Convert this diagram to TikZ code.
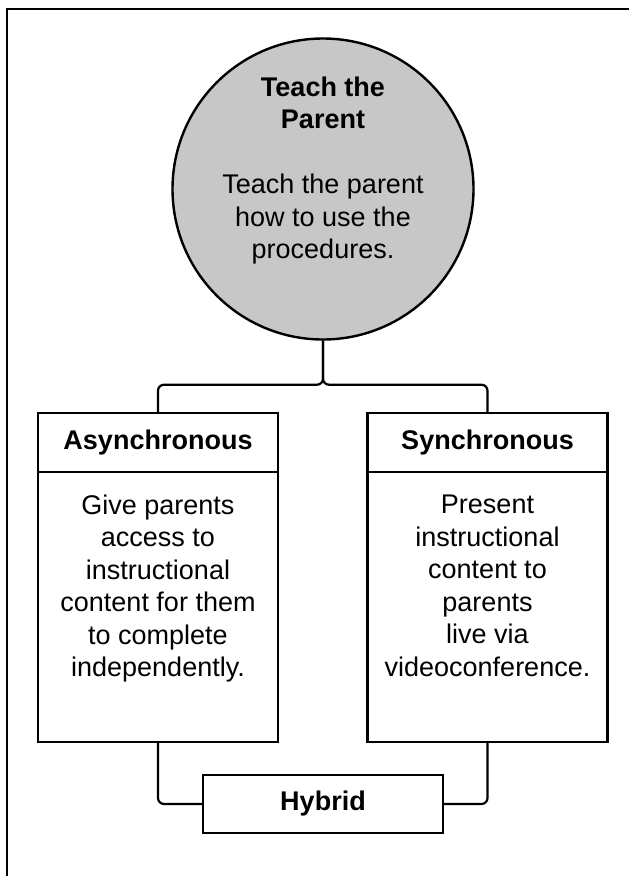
\documentclass[tikz,border=0pt]{standalone}
\usepackage{fontspec}
\setmainfont{Liberation Sans}
\usepackage{tikz}
\usetikzlibrary{positioning}
\definecolor{parentFill}{gray}{0.78}

\begin{document}
\begin{tikzpicture}[x=1pt,y=-1pt]

            \tikzstyle{textFont} = [font=\fontsize{27}{32.5}\selectfont];
            \tikzstyle{parentNode} = [textFont, circle, draw, line width=2.4pt, fill=parentFill, minimum size=271pt, inner sep=0pt, align=center];
            \tikzstyle{headBox} = [textFont, draw, line width=2.4pt, minimum width=240pt, minimum height=59pt, inner sep=0pt, font=\fontsize{27}{32.5}\selectfont\bfseries];
            \tikzstyle{bodyBox} = [textFont, draw, line width=2.4pt, minimum width=240pt, minimum height=270pt, inner sep=0pt, align=center];
            \tikzstyle{link} = [line width=2.2pt, rounded corners=6pt];

            \useasboundingbox (0,0) rectangle (629,876);
            \draw[line width=2pt] (6.5,876) -- (6.5,8.5) -- (629,8.5);

            \node[parentNode] (parent) at (323,189) {\textbf{Teach the}\\\textbf{Parent}\\[32.5pt]Teach the parent\\how to use the\\procedures.\\[10pt]};

            \node[headBox] (asyncHead) at (158,442.5) {Asynchronous};
            \node[bodyBox] (asyncBody) at (158,607) {Give parents\\access to\\instructional\\content for them\\to complete\\independently.\\[10pt]};
            \node[headBox] (syncHead) at (487.5,442.5) {Synchronous};
            \node[bodyBox] (syncBody) at (487.5,607) {Present\\instructional\\content to\\parents\\live via\\videoconference.\\[10pt]};

            \node[headBox, minimum height=58pt] (hybrid) at (323,804) {Hybrid};

            \draw[link] (parent.south) -- ++(0,44) -| (asyncHead.north);
            \draw[link] (parent.south) -- ++(0,44) -| (syncHead.north);
            \draw[link] (asyncBody.south) |- (hybrid.west);
            \draw[link] (syncBody.south) |- (hybrid.east);
          \end{tikzpicture}
\end{document}
